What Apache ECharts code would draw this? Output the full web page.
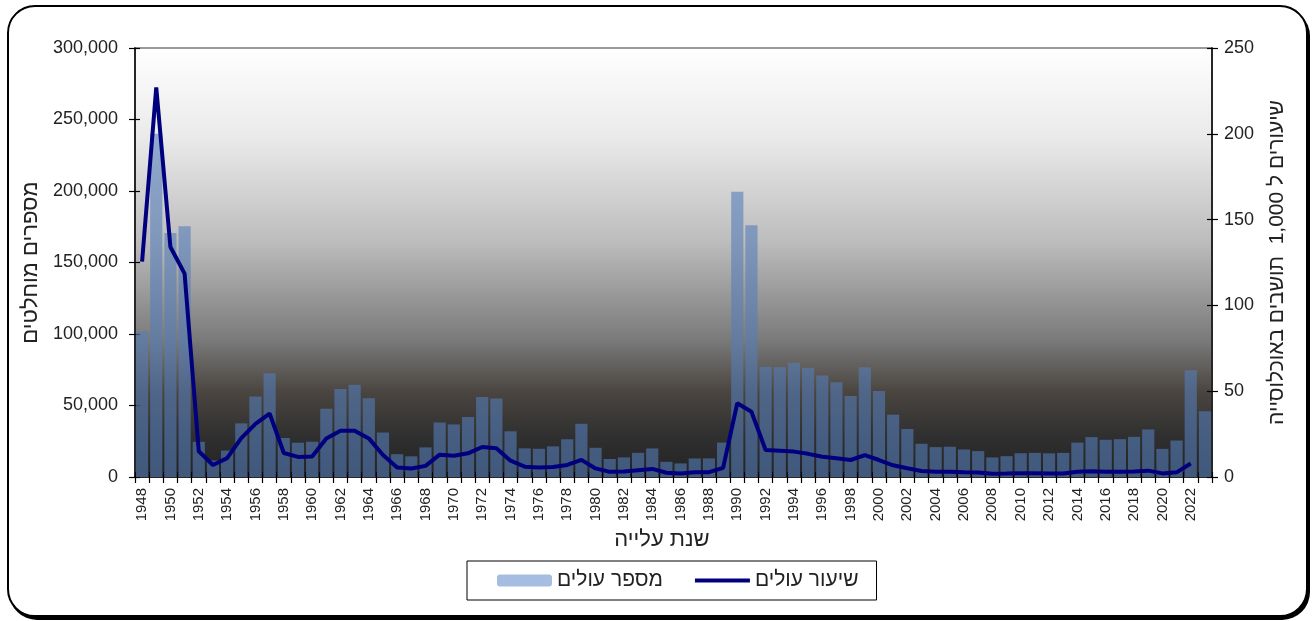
<!DOCTYPE html>
<html><head><meta charset="utf-8">
<script src="https://cdn.jsdelivr.net/npm/echarts@6/dist/echarts.min.js"></script>
<style>
html,body{margin:0;padding:0;background:#fff;width:1316px;height:621px;overflow:hidden}
#frame{position:absolute;left:7px;top:5px;width:1297px;height:608px;border:2px solid #000;border-radius:28px;box-shadow:2px 3px 0 #000;background:#fff}
#chart{position:absolute;left:0;top:0;width:1316px;height:621px}
</style></head>
<body><div id="frame"></div><div id="chart"></div>
<script>
const years = ['1948','1949','1950','1951','1952','1953','1954','1955','1956','1957','1958','1959','1960','1961','1962','1963','1964','1965','1966','1967','1968','1969','1970','1971','1972','1973','1974','1975','1976','1977','1978','1979','1980','1981','1982','1983','1984','1985','1986','1987','1988','1989','1990','1991','1992','1993','1994','1995','1996','1997','1998','1999','2000','2001','2002','2003','2004','2005','2006','2007','2008','2009','2010','2011','2012','2013','2014','2015','2016','2017','2018','2019','2020','2021','2022','2023'];
const immigrants = [101828,239954,170563,175279,24610,11575,18491,37528,56330,72634,27290,23988,24692,47735,61533,64489,55036,31115,15957,14469,20703,38111,36750,41930,55888,54886,31979,20028,19754,21429,26394,37222,20428,12599,13723,16906,19981,10642,9505,12965,13034,24050,199516,176100,77057,76805,79844,76361,70919,66221,56730,76766,60192,43580,33565,23268,20899,21183,19269,18131,13699,14574,16633,16892,16557,16884,24064,27908,26035,26437,28099,33247,19676,25497,74714,46000];
const ratePer1000 = [125.5,227,134,118.5,15,7,11,22.7,31,37,14,11.7,12,22.5,27,27,22.5,12.8,5.5,5,6.5,13,12.4,13.8,17.5,16.7,9.5,6,5.5,5.8,7,10,5,3,3.2,4,4.7,2.5,2.1,2.8,2.8,5.3,43,38,15.7,15.3,14.8,13.5,11.8,10.9,9.9,12.8,9.9,6.8,5.1,3.5,3.1,3.1,2.8,2.6,1.9,2.0,2.2,2.2,2.1,2.1,3.0,3.4,3.1,3.1,3.2,3.7,2.1,2.7,7.9,null];
const leftTicks = {min:0, max:300000, interval:50000};
const rightTicks = {min:0, max:250, interval:50};
const seriesNames = ['מספר עולים','שיעור עולים'];

const FONT = 'Liberation Sans, Arial, sans-serif';
const chart = echarts.init(document.getElementById('chart'), null, {renderer:'canvas'});
const bg = {type:'linear', x:0, y:0, x2:0, y2:1, colorStops:[
  {offset:0, color:'#ffffff'},
  {offset:0.21, color:'#eaeaea'},
  {offset:0.45, color:'#bdbdbd'},
  {offset:0.68, color:'#7a7a7a'},
  {offset:0.80, color:'#4a4540'},
  {offset:0.90, color:'#303030'},
  {offset:1, color:'#222222'}
]};
const tickStyle = {color:'#000', width:1.2};
chart.setOption({
  backgroundColor:'transparent',
  animation:false,
  textStyle:{fontFamily:FONT},
  grid:{left:135, right:104, top:48, bottom:144, show:true, backgroundColor:bg, borderColor:'#9a9a9a', borderWidth:2},
  legend:{
    left:467, top:561, orient:'horizontal',
    data:[
      {name:seriesNames[0], itemStyle:{color:'#a5bde0', opacity:1}},
      {name:seriesNames[1], itemStyle:{color:'rgba(0,0,0,0)', borderWidth:0}, lineStyle:{color:'#00007f', width:4}}
    ],
    itemWidth:55, itemHeight:12, itemGap:30,
    padding:[9,18,9,30], borderColor:'#000', borderWidth:1,
    textStyle:{fontSize:21, color:'#222', fontFamily:FONT}
  },
  xAxis:[{
    type:'category', data:years, boundaryGap:true,
    axisLine:{lineStyle:{color:'#000', width:1.5}},
    axisTick:{show:true, interval:0, length:6, lineStyle:tickStyle},
    axisLabel:{interval:1, rotate:90, fontSize:15, color:'#222', margin:11, fontFamily:FONT}
  },{
    type:'category', data:years, boundaryGap:true, position:'bottom',
    axisLine:{show:false},
    axisTick:{show:true, inside:true, interval:0, length:5, lineStyle:tickStyle},
    axisLabel:{show:false}
  }],
  yAxis:[
    {type:'value', min:leftTicks.min, max:leftTicks.max, interval:leftTicks.interval,
     name:'מספרים מוחלטים', nameLocation:'middle', nameRotate:90, nameGap:93,
     nameTextStyle:{fontSize:22, color:'#222', fontFamily:FONT},
     axisLine:{show:true, lineStyle:{color:'#000', width:1.5}},
     axisTick:{show:true, length:6, lineStyle:tickStyle},
     splitLine:{show:false},
     axisLabel:{fontSize:18, color:'#222', margin:17, fontFamily:FONT,
       formatter:v=>v.toLocaleString('en-US')}
    },
    {type:'value', min:rightTicks.min, max:rightTicks.max, interval:rightTicks.interval, position:'right',
     name:'שיעורים ל 1,000  תושבים באוכלוסייה', nameLocation:'middle', nameRotate:90, nameGap:55,
     nameTextStyle:{fontSize:21, color:'#222', fontFamily:FONT},
     axisLine:{show:true, lineStyle:{color:'#000', width:1.5}},
     axisTick:{show:true, length:6, lineStyle:tickStyle},
     splitLine:{show:false},
     axisLabel:{fontSize:18, color:'#222', margin:12, fontFamily:FONT}
    },
    {type:'value', min:leftTicks.min, max:leftTicks.max, interval:leftTicks.interval, position:'left',
     axisLine:{show:false}, axisTick:{show:true, inside:true, length:5, lineStyle:tickStyle},
     axisLabel:{show:false}, splitLine:{show:false}},
    {type:'value', min:rightTicks.min, max:rightTicks.max, interval:rightTicks.interval, position:'right',
     axisLine:{show:false}, axisTick:{show:true, inside:true, length:5, lineStyle:tickStyle},
     axisLabel:{show:false}, splitLine:{show:false}}
  ],
  graphic:[
    {type:'text', x:662, y:540, style:{text:'שנת עלייה', fontSize:22, fontFamily:FONT, fill:'#222', textAlign:'center', textVerticalAlign:'middle'}}
  ],
  series:[
    {name:seriesNames[0], type:'bar', xAxisIndex:0, yAxisIndex:0, data:immigrants, barCategoryGap:'14%',
     itemStyle:{color:'rgba(85,125,185,0.6)'}},
    {name:seriesNames[1], type:'line', xAxisIndex:0, yAxisIndex:1, data:ratePer1000, symbol:'none', showSymbol:false,
     lineStyle:{color:'#00007f', width:4}, itemStyle:{color:'#00007f'}, z:5}
  ]
});
</script></body></html>
